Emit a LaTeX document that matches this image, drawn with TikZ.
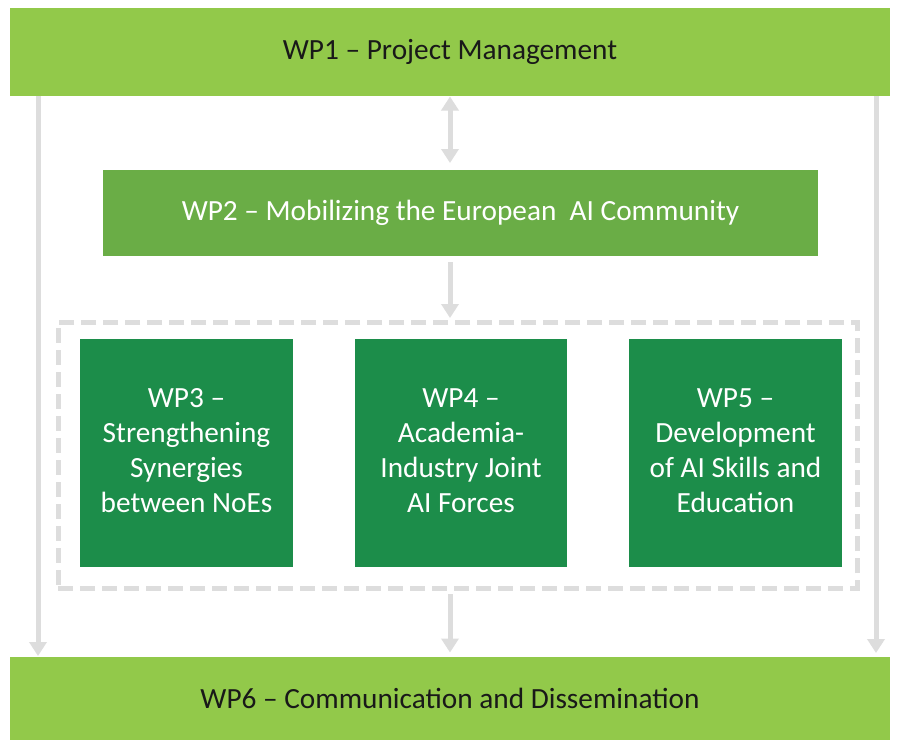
\documentclass[tikz,border=0pt]{standalone}
\usepackage{fontspec}
\setmainfont{Carlito}
\usetikzlibrary{arrows.meta,calc}
\definecolor{lightg}{RGB}{146,201,74}
\definecolor{midg}{RGB}{106,173,70}
\definecolor{darkg}{RGB}{28,141,74}
\definecolor{arrg}{RGB}{221,221,221}
\newcommand{\wplines}[1]{\raisebox{3pt}{\begin{tabular}{@{}c@{}}#1\end{tabular}}}
\tikzset{
  wpbox/.style={rectangle, inner sep=0pt, outer sep=0pt, align=center,
    font=\fontsize{29.3}{35}\selectfont},
  lightbox/.style={wpbox, fill=lightg, text=black!90},
  midbox/.style={wpbox, fill=midg, text=white},
  darkbox/.style={wpbox, fill=darkg, text=white},
  arr/.style={draw=arrg, line width=5pt, -{Triangle[width=17pt,length=14pt]}},
  dblarr/.style={draw=arrg, line width=5pt, {Triangle[width=17pt,length=14pt]}-{Triangle[width=17pt,length=14pt]}},
  grpbox/.style={rectangle, draw=arrg, line width=5pt, dash pattern=on 15pt off 7pt, inner sep=0pt, outer sep=0pt}
}
\begin{document}
\begin{tikzpicture}[x=1pt,y=-1pt]
\useasboundingbox[fill=white] (0,0) rectangle (900,740);
\node[lightbox, minimum width=880pt, minimum height=88pt] (wp1) at (450,52) {WP1 -- Project Management};
\node[lightbox, minimum width=880pt, minimum height=83pt] (wp6) at (450,698.5) {WP6 -- Communication and Dissemination};
\node[midbox, minimum width=715pt, minimum height=86pt] (wp2) at (460.5,213) {WP2 -- Mobilizing the European~ AI Community};
\node[grpbox, minimum width=799pt, minimum height=266pt] (grp) at (457.5,455) {};
\node[darkbox, minimum width=213pt, minimum height=228pt] (wp3) at (186.5,453) {\wplines{WP3 --\\Strengthening\\Synergies\\between NoEs}};
\node[darkbox, minimum width=212pt, minimum height=228pt] (wp4) at (461,453) {\wplines{WP4 --\\Academia-\\Industry Joint\\AI Forces}};
\node[darkbox, minimum width=213pt, minimum height=228pt] (wp5) at (735.5,453) {\wplines{WP5 --\\Development\\of AI Skills and\\Education}};
\coordinate (L) at (38,0);
\coordinate (R) at (876,0);
\coordinate (M) at (450,0);
\draw[arr, shorten >=1pt] (wp1.south -| L) -- (wp6.north -| L);
\draw[arr, shorten >=4pt] (wp1.south -| R) -- (wp6.north -| R);
\draw[dblarr, shorten >=7pt, shorten <=0.5pt] (wp1.south -| M) -- (wp2.north -| M);
\draw[arr, shorten <=6pt, shorten >=4pt] (wp2.south -| M) -- (grp.north -| M);
\draw[arr, shorten <=6pt, shorten >=4.5pt] (grp.south -| M) -- (wp6.north -| M);
\end{tikzpicture}
\end{document}
